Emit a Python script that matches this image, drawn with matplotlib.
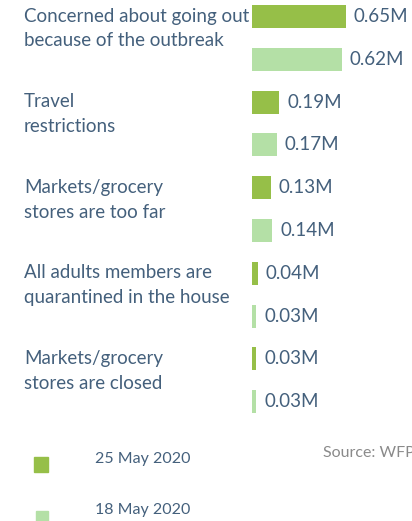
import numpy as np
import matplotlib.pyplot as plt
import matplotlib.transforms as mtransforms
from matplotlib.patches import Rectangle

categories = ["Concerned about going out\nbecause of the outbreak",
              "Travel\nrestrictions",
              "Markets/grocery\nstores are too far",
              "All adults members are\nquarantined in the house",
              "Markets/grocery\nstores are closed"]
may25 = [0.65, 0.19, 0.13, 0.04, 0.03]
may18 = [0.62, 0.17, 0.14, 0.03, 0.03]
series_names = ["25 May 2020", "18 May 2020"]
colors = ["#96bf48", "#b4e0a6"]

text_color = "#44607c"
plt.rcParams["font.family"] = ["Lato", "DejaVu Sans"]

W, H = 412, 521
fig = plt.figure(figsize=(W / 100, H / 100), dpi=100)

# bar area: zero line at x=252px, ~144.6 px per million
x0 = 252
scale = 144.6
ax = fig.add_axes([x0 / W, 0, (W - x0) / W, 1])
ax.set_xlim(0, (W - x0) / scale)
step = 42.8
top = 16.5
ax.set_ylim((H - top) / step, -top / step)
ax.axis("off")

pos25 = np.arange(len(categories)) * 2
pos18 = pos25 + 1
ax.barh(pos25, may25, height=23 / step, color=colors[0])
ax.barh(pos18, may18, height=23 / step, color=colors[1])

gap = 8 / scale
for p, v in zip(pos25, may25):
    ax.text(v + gap, p, f"{v:.2f}M", va="center", ha="left", fontsize=13.5, color=text_color)
for p, v in zip(pos18, may18):
    ax.text(v + gap, p, f"{v:.2f}M", va="center", ha="left", fontsize=13.5, color=text_color)

trans = mtransforms.blended_transform_factory(fig.transFigure, ax.transData)
for p, c in zip(pos25, categories):
    ax.text(24 / W, p + 12 / step, c, transform=trans, va="center", ha="left",
            fontsize=13.5, color=text_color, linespacing=1.55, clip_on=False)

# legend
fig.add_artist(Rectangle((34 / W, 1 - 472 / H), 14 / W, 15 / H,
                         transform=fig.transFigure, color=colors[0]))
fig.add_artist(Rectangle((36 / W, 1 - 525 / H), 12 / W, 14 / H,
                         transform=fig.transFigure, color=colors[1]))
fig.text(95 / W, 1 - 459 / H, series_names[0], va="center", ha="left",
         fontsize=11.5, color=text_color)
fig.text(95 / W, 1 - 510 / H, series_names[1], va="center", ha="left",
         fontsize=11.5, color=text_color)

fig.text(323 / W, 1 - 453 / H, "Source: WFP", va="center", ha="left",
         fontsize=11.5, color="#8a8a8a")

fig.savefig("out.png", dpi=100)
